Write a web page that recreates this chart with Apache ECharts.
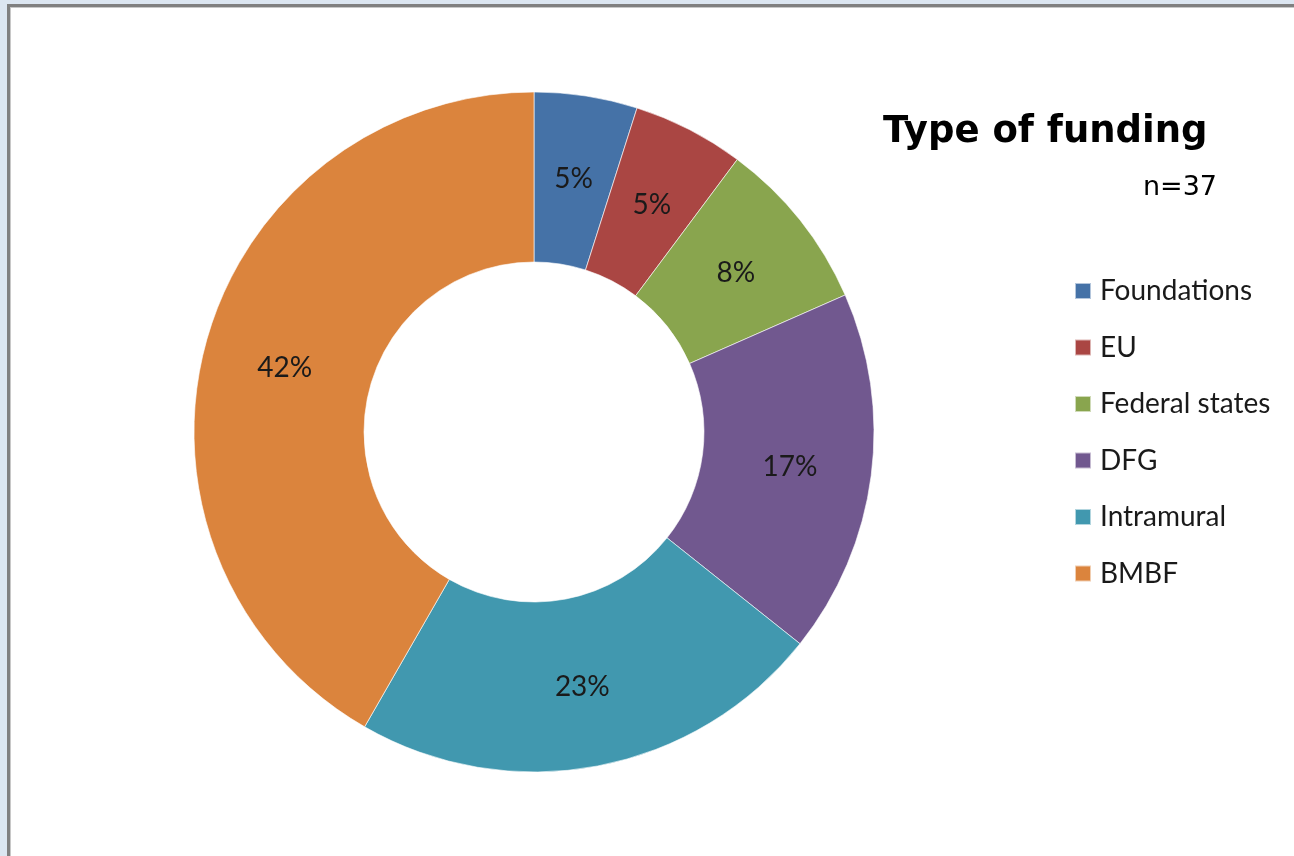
<!DOCTYPE html>
<html>
<head>
<meta charset="utf-8">
<script src="https://cdn.jsdelivr.net/npm/echarts@6/dist/echarts.min.js"></script>
<style>
html,body{margin:0;padding:0;background:#dce6f1;overflow:hidden;}
#frame{position:absolute;left:7px;top:4px;width:1400px;height:1000px;background:#fff;border-left:3px solid #808080;border-top:3px solid #808080;box-sizing:border-box;box-shadow:inset 1px 1px 0 #c8c8c8;}
#chart{position:absolute;left:0;top:0;width:1294px;height:856px;}
</style>
</head>
<body>
<div id="frame"></div>
<div id="chart"></div>
<script>
const categories = ['Foundations', 'EU', 'Federal states', 'DFG', 'Intramural', 'BMBF'];
const values = [4.9, 5.3, 8.2, 17.3, 22.6, 41.7];
const colors = ['#4572a7', '#aa4643', '#89a54e', '#71588f', '#4198af', '#db843d'];
const titleText = 'Type of funding';
const subText = 'n=37';

const chart = echarts.init(document.getElementById('chart'), null, {renderer: 'canvas'});
const data = categories.map((c, i) => ({name: c, value: values[i], itemStyle: {color: colors[i]}}));
chart.setOption({
  backgroundColor: 'transparent',
  animation: false,
  title: [
    {text: titleText, left: 878, top: 109, textStyle: {fontFamily: 'DejaVu Sans', fontWeight: 'bold', fontSize: 37, color: '#000'}},
    {text: subText, right: 72, top: 169, textStyle: {fontFamily: 'DejaVu Sans', fontWeight: 'normal', fontSize: 27, color: '#000'}}
  ],
  legend: {
    orient: 'vertical',
    left: 1069,
    top: 272,
    icon: 'rect',
    itemWidth: 16,
    itemHeight: 16,
    itemGap: 28.5,
    textStyle: {fontFamily: 'Lato', fontSize: 28, color: '#1a1a1a', lineHeight: 28, padding: [0,0,0,4]},
    data: categories
  },
  series: [{
    type: 'pie',
    center: [534, 432],
    radius: [170, 340],
    startAngle: 90,
    clockwise: true,
    avoidLabelOverlap: false,
    itemStyle: {borderColor: 'rgba(255,255,255,0.6)', borderWidth: 1},
    label: {
      show: true,
      position: 'inside',
      formatter: p => Math.round(p.percent) + '%',
      fontFamily: 'Lato',
      fontSize: 28,
      color: '#1a1a1a',
      offset: [0, 2]
    },
    labelLine: {show: false},
    emphasis: {disabled: true},
    data: data
  }]
});
</script>
</body>
</html>
